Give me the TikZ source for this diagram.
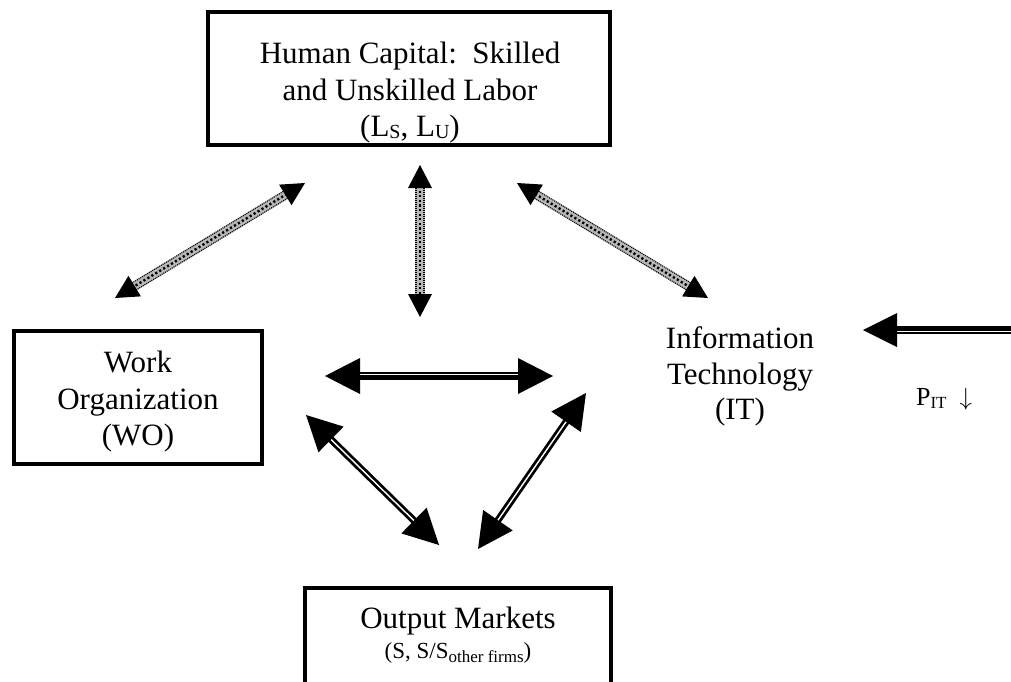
\documentclass[tikz,border=0pt]{standalone}
\usepackage{fontspec}
\setmainfont{Liberation Serif}
\usetikzlibrary{calc}

\tikzset{
  box/.style={draw, line width=4pt, inner sep=0pt},
  txt/.style={align=center, inner sep=0pt, font=\fontsize{31}{37}\selectfont},
}

% filled triangular head: tip #1, pointing away from #2, length #3, half width #4
\newcommand\arrhead[4]{%
  \coordinate (ahbase) at ($(#1)!#3!(#2)$);
  \fill ($(#1)$) -- ($(ahbase)!#4!90:(#1)$) -- ($(ahbase)!#4!-90:(#1)$) -- cycle;}

% dotted two-headed connector between named coordinates
\newcommand\dotconn[2]{%
  \coordinate (dsa) at ($(#1)!21pt!(#2)$);
  \coordinate (dsb) at ($(#2)!21pt!(#1)$);
  \draw[line width=9.5pt, black!28] (dsa) -- (dsb);
  \draw[line width=1.1pt, dash pattern=on 1pt off 1pt]
    ($(dsa)!4pt!90:(dsb)$) -- ($(dsb)!4pt!-90:(dsa)$);
  \draw[line width=1.1pt, dash pattern=on 1pt off 1pt]
    ($(dsa)!4pt!-90:(dsb)$) -- ($(dsb)!4pt!90:(dsa)$);
  \draw[line width=2.4pt, dash pattern=on 2.2pt off 2.4pt] (dsa) -- (dsb);
  \arrhead{#1}{#2}{23pt}{12pt}%
  \arrhead{#2}{#1}{23pt}{12pt}}

% double-line shaft from #1 to #2, black width #3, white line offset #4
\newcommand\dblshaft[4]{%
  \draw[line width=#3] (#1) -- (#2);
  \draw[line width=1.4pt, white] ($(#1)!#4!90:(#2)$) -- ($(#2)!#4!-90:(#1)$);}

% double-line two-headed connector
\newcommand\dblconn[4]{%
  \coordinate (dba) at ($(#1)!33pt!(#2)$);
  \coordinate (dbb) at ($(#2)!33pt!(#1)$);
  \dblshaft{dba}{dbb}{#3}{#4}%
  \arrhead{#1}{#2}{35pt}{18pt}%
  \arrhead{#2}{#1}{35pt}{18pt}}

\begin{document}
\begin{tikzpicture}[x=1pt, y=-1pt]
\useasboundingbox (0,0) rectangle (1011,681);
\fill[white] (0,0) rectangle (1011,681);
\clip (0,0) rectangle (1011,681);

% boxes
\node[box, minimum width=402pt, minimum height=133pt] (hc) at (409,78.5) {};
\node[txt, anchor=north] (hctext) at (410,41.8)
  {Human Capital:\ \ Skilled\\ and Unskilled Labor\\[-1pt]
   (L\raisebox{-2pt}{\fontsize{20}{20}\selectfont S}, L\raisebox{-2pt}{\fontsize{20}{20}\selectfont U})};

\node[box, minimum width=248pt, minimum height=133pt] (wo) at (138,397.5) {};
\node[txt, anchor=north, font=\fontsize{31}{36.5}\selectfont] (wotext) at (138,350.8)
  {Work\\ Organization\\ (WO)};

\node[txt, anchor=north, font=\fontsize{31}{35.5}\selectfont] (it) at (740,326.8)
  {Information\\ Technology\\ (IT)};

\node[box, minimum width=306pt, minimum height=120pt] (om) at (458,648) {};
\node[txt, anchor=north] (omtext) at (458,606.8)
  {Output Markets\\[-7pt]
   {\fontsize{23}{23}\selectfont (S, S/S\raisebox{-4pt}{\fontsize{17}{17}\selectfont other firms})}};

\node[anchor=base, inner sep=0pt, font=\fontsize{26}{26}\selectfont] (pit) at (944,405)
  {P\raisebox{-3pt}{\fontsize{17}{17}\selectfont IT}\ \ $\downarrow$};

% connector end points
\coordinate (d1a) at (305,183); \coordinate (d1b) at (115,298);
\coordinate (d2a) at (420,165); \coordinate (d2b) at (420,317);
\coordinate (d3a) at (517,183); \coordinate (d3b) at (708,298);
\coordinate (ha) at (325,376);  \coordinate (hb) at (553,376);
\coordinate (la) at (306,415);  \coordinate (lb) at (439,545);
\coordinate (ra) at (586,393);  \coordinate (rb) at (478,549);
\coordinate (pa) at (1030,330); \coordinate (pb) at (863,330);

% dotted connectors
\dotconn{d1a}{d1b}
\dotconn{d2a}{d2b}
\dotconn{d3a}{d3b}

% double-line connectors
\dblconn{ha}{hb}{8pt}{1.5pt}
\dblconn{la}{lb}{7pt}{0pt}
\dblconn{ra}{rb}{7pt}{0pt}
\coordinate (pbase) at ($(pb)!32pt!(pa)$);
\dblshaft{pa}{pbase}{8pt}{1.5pt}
\arrhead{pb}{pa}{34pt}{17pt}
\end{tikzpicture}
\end{document}
